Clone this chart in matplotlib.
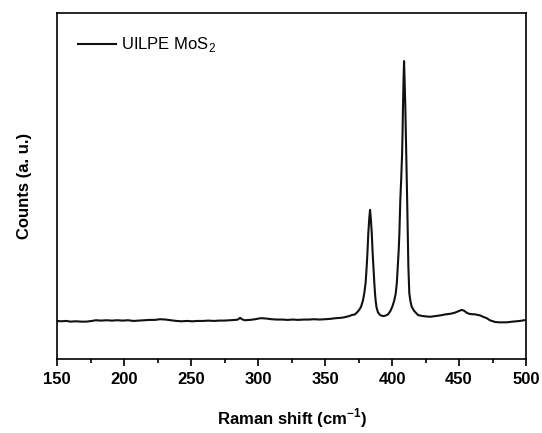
import matplotlib
matplotlib.use('Agg')
import matplotlib.pyplot as plt
from matplotlib.ticker import MultipleLocator

# Raman spectrum (x in cm-1, y in arbitrary counts)
shift = [150, 153, 157, 160, 164, 168, 172, 176, 179, 183, 187, 191, 195, 199,
         203, 207, 211, 215, 219, 223, 227, 231, 235, 239, 243, 247, 251, 255,
         259, 263, 267, 271, 275, 279, 283, 285, 286.6, 288, 290, 294, 298, 302,
         306, 310, 314, 318, 322, 326, 330, 334, 338, 342, 346, 350, 354, 358,
         362, 365, 368, 370, 372.4, 374, 375.5, 376.9, 378.3, 379.3, 380.3, 381.1,
         381.7, 382.3, 383.0, 383.6, 384.2, 384.9, 385.5, 386.1, 386.8, 387.3,
         387.8, 388.4, 389.5, 391.1, 392.5, 393.5, 395, 397, 398.7, 400.2,
         401.6, 402.8, 403.6, 404.3, 405.0, 405.5, 406.2, 406.9, 407.5, 407.9,
         408.2, 408.6, 409.0, 409.4, 409.9, 410.3, 410.7, 411.0, 411.3, 411.8,
         412.2, 412.6, 412.9, 413.7, 414.7, 416.5, 419.4, 423, 428.4, 432, 436,
         440, 444, 447, 450, 452, 454, 456, 458.2, 462, 465.7, 468, 470.7, 473,
         476.9, 480, 485.6, 490, 495.5, 500]
counts = [11.0, 10.9, 11.0, 10.8, 10.9, 10.8, 10.8, 11.0, 11.2, 11.1, 11.2, 11.1,
          11.2, 11.1, 11.2, 11.0, 11.1, 11.2, 11.3, 11.3, 11.5, 11.4, 11.2, 11.0,
          10.9, 11.0, 10.9, 11.0, 11.0, 11.1, 11.0, 11.1, 11.1, 11.2, 11.3, 11.4,
          11.9, 11.5, 11.2, 11.3, 11.5, 11.8, 11.7, 11.5, 11.4, 11.4, 11.3, 11.4,
          11.3, 11.4, 11.4, 11.5, 11.4, 11.5, 11.6, 11.8, 11.9, 12.1, 12.4, 12.7,
          12.9, 13.5, 14.2, 15.1, 16.9, 19.0, 22.0, 26.7, 31.0, 36.3, 40.5, 43.1,
          40.5, 36.3, 31.0, 26.7, 22.0, 19.0, 16.8, 15.0, 13.5, 12.7, 12.5, 12.4,
          12.5, 12.9, 13.8, 15.1, 16.8, 19.0, 22.0, 26.7, 31.5, 36.3, 46.0, 52.5,
          59.0, 66.0, 73.4, 80.5, 86.1, 80.5, 73.4, 66.0, 59.0, 52.5, 46.0, 35.0,
          26.7, 22.0, 19.0, 16.8, 15.1, 13.9, 12.7, 12.4, 12.2, 12.4, 12.6, 12.9,
          13.1, 13.4, 13.9, 14.2, 13.9, 13.3, 13.0, 12.9, 12.6, 12.2, 11.8, 11.2,
          10.7, 10.6, 10.6, 10.8, 11.0, 11.3]
seriesName = 'UILPE MoS$_2$'

plt.rcParams['font.family'] = ['Liberation Sans', 'DejaVu Sans']
plt.rcParams['mathtext.fontset'] = 'custom'
plt.rcParams['mathtext.rm'] = 'Liberation Sans'
plt.rcParams['mathtext.bf'] = 'Liberation Sans:bold'

fig = plt.figure(figsize=(5.42, 4.33), dpi=100)
ax = fig.add_axes([0.1052, 0.1709, 0.8653, 0.7991])
ax.plot(shift, counts, color='#111111', lw=1.5, label=seriesName)

ax.set_xlim(150, 500)
ax.set_ylim(0, 100)
ax.xaxis.set_major_locator(MultipleLocator(50))
ax.xaxis.set_minor_locator(MultipleLocator(25))
ax.tick_params(axis='x', which='major', direction='out', length=5, width=1.2,
               pad=4, labelsize=12)
ax.tick_params(axis='x', which='minor', direction='out', length=3, width=1.2)
ax.set_yticks([])
for lab in ax.get_xticklabels():
    lab.set_fontweight('bold')
for s in ax.spines.values():
    s.set_linewidth(1.2)

ax.set_xlabel(r'Raman shift (cm$^{\mathbf{-1}}$)', fontsize=12,
              fontweight='bold', labelpad=14)
ax.set_ylabel('Counts (a. u.)', fontsize=12, fontweight='bold', labelpad=18)

ax.legend(loc='upper left', bbox_to_anchor=(0.045, 0.935), frameon=False,
          borderaxespad=0, borderpad=0, handlelength=2.3, handletextpad=0.3,
          fontsize=12)

fig.savefig('out.png', dpi=100)
